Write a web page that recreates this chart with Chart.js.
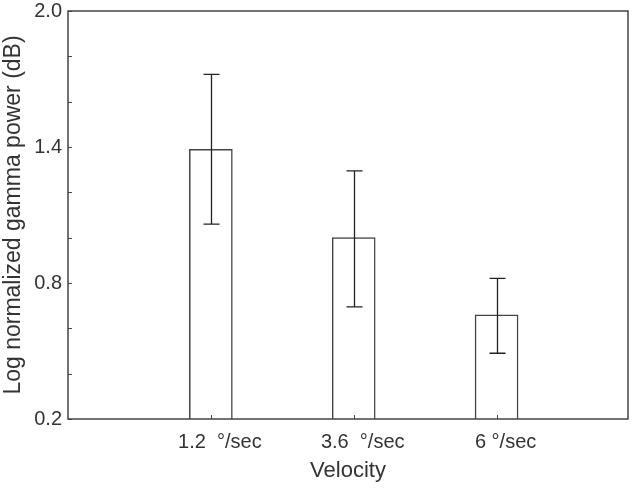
<!DOCTYPE html>
<html>
<head>
<meta charset="utf-8">
<script src="https://cdn.jsdelivr.net/npm/chart.js@4"></script>
<style>
  html, body { margin: 0; padding: 0; background: #fff; }
  #wrap { width: 640px; height: 488px; }
</style>
</head>
<body>
<div id="wrap"><canvas id="c" width="640" height="488"></canvas></div>
<script>
// ── Data ─────────────────────────────────────────────────────────
const categories = ['1.2  °/sec', '3.6  °/sec', '6 °/sec'];
const positions  = [1, 2, 3];
const means      = [1.39, 1.00, 0.66];
const errLow     = [1.06, 0.695, 0.49];
const errHigh    = [1.72, 1.295, 0.82];
const yLabelled  = [0.2, 0.8, 1.4, 2.0];

const INK = '#333333';
const FONT = "'Liberation Sans', Arial, sans-serif";

// box round the plot + inward ticks
const frame = {
  id: 'frame',
  afterDatasetsDraw(chart) {
    const { ctx, chartArea: a, scales } = chart;
    ctx.save();
    ctx.strokeStyle = '#444';
    ctx.lineWidth = 1.5;
    ctx.strokeRect(a.left, a.top, a.right - a.left, a.bottom - a.top);
    ctx.lineWidth = 1;
    ctx.beginPath();
    scales.y.ticks.forEach(t => {
      const y = Math.round(scales.y.getPixelForValue(t.value)) + 0.5;
      ctx.moveTo(a.left, y); ctx.lineTo(a.left + 4, y);
    });
    positions.forEach(p => {
      const x = Math.round(scales.x.getPixelForValue(p)) + 0.5;
      ctx.moveTo(x, a.bottom); ctx.lineTo(x, a.bottom - 4);
    });
    ctx.stroke();
    ctx.restore();
  }
};

// error bars
const errBars = {
  id: 'errBars',
  afterDatasetsDraw(chart) {
    const { ctx, scales: { x, y } } = chart;
    ctx.save();
    ctx.strokeStyle = '#222';
    ctx.lineWidth = 1.3;
    positions.forEach((p, i) => {
      const px = Math.round(x.getPixelForValue(p)) + 0.5;
      const lo = y.getPixelForValue(errLow[i]);
      const hi = y.getPixelForValue(errHigh[i]);
      ctx.beginPath();
      ctx.moveTo(px, lo); ctx.lineTo(px, hi);
      ctx.moveTo(px - 8, hi); ctx.lineTo(px + 8, hi);
      ctx.moveTo(px - 8, lo); ctx.lineTo(px + 8, lo);
      ctx.stroke();
    });
    ctx.restore();
  }
};

new Chart(document.getElementById('c'), {
  type: 'bar',
  data: {
    datasets: [{
      data: positions.map((p, i) => ({ x: p, y: means[i] })),
      backgroundColor: '#ffffff',
      borderColor: '#444',
      borderWidth: 1.5,
      borderSkipped: 'bottom',
      barThickness: 43
    }]
  },
  options: {
    responsive: false,
    animation: false,
    layout: { padding: { top: 11, right: 12, left: 0, bottom: 0 } },
    plugins: { legend: { display: false }, tooltip: { enabled: false } },
    scales: {
      x: {
        type: 'linear',
        offset: false,
        min: 0, max: 3.92,
        grid: { display: false, drawTicks: false, offset: false },
        border: { display: false },
        afterFit: s => { s.height = 69; s.paddingLeft = 0; s.paddingRight = 0; },
        afterBuildTicks: s => { s.ticks = positions.map(v => ({ value: v })); },
        ticks: {
          autoSkip: false,
          maxRotation: 0,
          padding: 11,
          labelOffset: 9,
          color: INK,
          font: { family: FONT, size: 20 },
          callback: v => categories[positions.indexOf(v)] || ''
        },
        title: {
          display: true,
          text: 'Velocity',
          color: INK,
          font: { family: FONT, size: 22 },
          padding: { top: 2 }
        }
      },
      y: {
        min: 0.2, max: 2.0,
        grid: { display: false, drawTicks: false },
        border: { display: false },
        afterFit: s => { s.width = 68; s.paddingTop = 0; s.paddingBottom = 0; },
        ticks: {
          stepSize: 0.2,
          autoSkip: false,
          padding: 6,
          color: INK,
          font: { family: FONT, size: 20 },
          callback: v => {
            const r = Math.round(v * 10) / 10;
            return yLabelled.includes(r) ? r.toFixed(1) : '';
          }
        },
        title: {
          display: true,
          text: 'Log normalized gamma power (dB)',
          color: INK,
          font: { family: FONT, size: 23 },
          padding: 0
        }
      }
    }
  },
  plugins: [frame, errBars]
});
</script>
</body>
</html>
